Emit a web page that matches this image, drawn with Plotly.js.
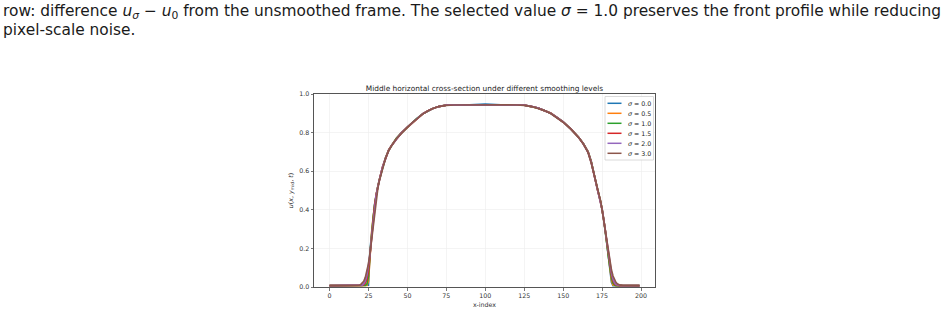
<!DOCTYPE html>
<html>
<head>
<meta charset="utf-8">
<script src="https://cdn.plot.ly/plotly-3.0.1.min.js"></script>
<style>html,body{margin:0;padding:0;background:#fff;}#chart{width:945px;height:314px;}</style>
</head>
<body>
<div id="chart"></div>
<script>
// ---- data ----
const xIndex = [0, 10, 18, 19, 20, 21, 22, 23, 24, 25, 26, 27, 28, 29, 30, 31, 32, 34, 36, 38, 40, 43, 46, 50, 53, 56, 60, 63, 66, 70, 75, 80, 90, 100, 110, 120, 125, 130, 134, 138, 142, 146, 150, 155, 160, 163, 166, 168, 170, 172, 174, 175, 176, 177, 178, 179, 180, 181, 182, 183, 184, 185, 186, 188, 199];

const sigmaLabels = ['0.0', '0.5', '1.0', '1.5', '2.0', '3.0'];

const uSigma00 = [0.007, 0.007, 0.007, 0.007, 0.007, 0.007, 0.007, 0.007, 0.007, 0.010, 0.190, 0.280, 0.360, 0.430, 0.480, 0.520, 0.555, 0.620, 0.670, 0.710, 0.735, 0.770, 0.797, 0.828, 0.850, 0.872, 0.898, 0.912, 0.924, 0.935, 0.942, 0.944, 0.944, 0.948, 0.944, 0.944, 0.942, 0.935, 0.927, 0.914, 0.900, 0.878, 0.855, 0.818, 0.775, 0.742, 0.700, 0.650, 0.575, 0.505, 0.445, 0.405, 0.350, 0.296, 0.225, 0.160, 0.090, 0.025, 0.007, 0.007, 0.007, 0.007, 0.007, 0.007, 0.007];
const uSigma05 = [0.007, 0.007, 0.007, 0.007, 0.007, 0.007, 0.007, 0.007, 0.008, 0.030, 0.180, 0.280, 0.360, 0.430, 0.480, 0.520, 0.555, 0.620, 0.670, 0.710, 0.735, 0.770, 0.798, 0.828, 0.850, 0.872, 0.898, 0.912, 0.924, 0.935, 0.942, 0.944, 0.944, 0.947, 0.944, 0.944, 0.942, 0.935, 0.927, 0.914, 0.901, 0.878, 0.855, 0.818, 0.775, 0.742, 0.700, 0.650, 0.575, 0.505, 0.445, 0.405, 0.350, 0.296, 0.225, 0.160, 0.092, 0.035, 0.010, 0.007, 0.007, 0.007, 0.007, 0.007, 0.007];
const uSigma10 = [0.007, 0.007, 0.007, 0.007, 0.007, 0.007, 0.007, 0.008, 0.015, 0.055, 0.170, 0.275, 0.355, 0.428, 0.479, 0.520, 0.555, 0.620, 0.670, 0.709, 0.735, 0.770, 0.797, 0.828, 0.850, 0.872, 0.898, 0.912, 0.924, 0.935, 0.942, 0.944, 0.944, 0.946, 0.944, 0.944, 0.942, 0.935, 0.927, 0.914, 0.900, 0.878, 0.855, 0.818, 0.775, 0.742, 0.700, 0.650, 0.576, 0.506, 0.445, 0.404, 0.350, 0.296, 0.226, 0.160, 0.100, 0.048, 0.020, 0.010, 0.007, 0.007, 0.007, 0.007, 0.007];
const uSigma15 = [0.007, 0.007, 0.007, 0.007, 0.007, 0.008, 0.011, 0.020, 0.040, 0.085, 0.165, 0.265, 0.350, 0.425, 0.478, 0.519, 0.555, 0.619, 0.670, 0.709, 0.735, 0.769, 0.797, 0.828, 0.850, 0.872, 0.898, 0.912, 0.924, 0.935, 0.942, 0.944, 0.944, 0.945, 0.944, 0.944, 0.942, 0.935, 0.927, 0.914, 0.900, 0.878, 0.855, 0.818, 0.775, 0.741, 0.699, 0.648, 0.577, 0.507, 0.445, 0.403, 0.350, 0.295, 0.228, 0.165, 0.110, 0.063, 0.032, 0.016, 0.010, 0.008, 0.007, 0.007, 0.007];
const uSigma20 = [0.007, 0.007, 0.007, 0.007, 0.008, 0.010, 0.017, 0.032, 0.060, 0.105, 0.170, 0.255, 0.340, 0.420, 0.475, 0.518, 0.554, 0.619, 0.669, 0.708, 0.735, 0.769, 0.797, 0.828, 0.850, 0.872, 0.898, 0.912, 0.924, 0.935, 0.942, 0.944, 0.944, 0.944, 0.944, 0.944, 0.942, 0.935, 0.927, 0.914, 0.900, 0.878, 0.855, 0.818, 0.775, 0.741, 0.698, 0.646, 0.578, 0.508, 0.445, 0.402, 0.349, 0.295, 0.230, 0.170, 0.118, 0.074, 0.042, 0.022, 0.013, 0.009, 0.008, 0.007, 0.007];
const uSigma30 = [0.007, 0.007, 0.008, 0.009, 0.012, 0.019, 0.030, 0.050, 0.080, 0.120, 0.175, 0.245, 0.325, 0.400, 0.460, 0.510, 0.550, 0.617, 0.668, 0.706, 0.734, 0.768, 0.796, 0.828, 0.850, 0.871, 0.897, 0.912, 0.924, 0.935, 0.941, 0.943, 0.944, 0.943, 0.944, 0.943, 0.941, 0.935, 0.926, 0.914, 0.899, 0.878, 0.854, 0.818, 0.774, 0.740, 0.696, 0.642, 0.578, 0.510, 0.446, 0.400, 0.348, 0.292, 0.235, 0.178, 0.128, 0.088, 0.057, 0.036, 0.022, 0.015, 0.011, 0.008, 0.007];

const xTicks = [0, 25, 50, 75, 100, 125, 150, 175, 200];
const yTicks = [0.0, 0.2, 0.4, 0.6, 0.8, 1.0];

// ---- styling ----
const series = [uSigma00, uSigma05, uSigma10, uSigma15, uSigma20, uSigma30];
const colors = ['#1f77b4', '#ff7f0e', '#2ca02c', '#d62728', '#9467bd', '#8c564b'];
const FONT = 'DejaVu Sans, sans-serif';

const traces = series.map((ys, i) => ({
  type: 'scatter', mode: 'lines',
  x: xIndex, y: ys,
  name: 'σ = ' + sigmaLabels[i],
  line: {color: colors[i], width: 1.7},
  showlegend: false,
  hoverinfo: 'skip'
}));

// plot area in pixels
const L = 314, R = 655, T = 94, B = 287;
const W = 945, H = 314;
const px = v => (v - L) / (R - L);
const py = v => 1 - (v - T) / (B - T);

const shapes = [];
const annotations = [];

// manual legend (matplotlib style, compact)
shapes.push({type: 'rect', xref: 'paper', yref: 'paper',
  x0: px(605), x1: px(653.5), y0: py(160), y1: py(96.5),
  line: {color: '#d0d0d0', width: 0.8}, fillcolor: 'rgba(255,255,255,0.85)', layer: 'above'});
sigmaLabels.forEach((s, i) => {
  const yy = py(103.3 + 10 * i);
  shapes.push({type: 'line', xref: 'paper', yref: 'paper',
    x0: px(607.5), x1: px(621.5), y0: yy, y1: yy,
    line: {color: colors[i], width: 1.5}, layer: 'above'});
  annotations.push({xref: 'paper', yref: 'paper', x: px(625.5), y: yy,
    xanchor: 'left', yanchor: 'middle', showarrow: false,
    text: '<i>σ</i> = ' + s, font: {family: FONT, size: 6.3, color: '#222'}});
});

// caption text above the figure
const CAP_FONT = {family: 'DejaVu Sans, sans-serif', size: 15.4, color: '#1a1a1a'};
annotations.push({xref: 'paper', yref: 'paper', x: px(1), y: py(0), xanchor: 'left', yanchor: 'top',
  showarrow: false, align: 'left',
  text: 'row: difference <i>u</i><sub><i>σ</i></sub> − <i>u</i><sub>0</sub> from the unsmoothed frame. The selected value <i>σ</i> = 1.0 preserves the front profile while reducing',
  font: CAP_FONT});
annotations.push({xref: 'paper', yref: 'paper', x: px(1), y: py(19.5), xanchor: 'left', yanchor: 'top',
  showarrow: false, align: 'left',
  text: 'pixel-scale noise.',
  font: CAP_FONT});

const axisCommon = {
  showline: true, mirror: true, linecolor: '#555', linewidth: 1,
  ticks: 'outside', ticklen: 2.5, tickwidth: 0.8, tickcolor: '#555',
  showgrid: true, gridcolor: '#ececec', gridwidth: 0.6,
  zeroline: false,
  tickfont: {family: FONT, size: 6.3, color: '#333'}
};

const layout = {
  width: W, height: H,
  margin: {l: L, r: W - R, t: T, b: H - B, pad: 0},
  paper_bgcolor: '#fff', plot_bgcolor: '#fff',
  showlegend: false,
  title: {text: 'Middle horizontal cross-section under different smoothing levels',
    font: {family: FONT, size: 7.4, color: '#222'},
    x: 0.5, xref: 'paper', xanchor: 'center', y: (H - 88) / H, yref: 'container', yanchor: 'middle'},
  xaxis: Object.assign({}, axisCommon, {
    range: [-9.95, 208.95], tickmode: 'array', tickvals: xTicks,
    ticktext: xTicks.map(String),
    title: {text: 'x-index', font: {family: FONT, size: 6.3, color: '#333'}, standoff: 4}
  }),
  yaxis: Object.assign({}, axisCommon, {
    range: [0, 1], tickmode: 'array', tickvals: yTicks,
    ticktext: yTicks.map(v => v.toFixed(1)),
    title: {text: '<i>u</i>(<i>x</i>, <i>y</i><sub>mid</sub>, <i>t</i>)', font: {family: FONT, size: 6.3, color: '#333'}, standoff: 5}
  }),
  shapes: shapes,
  annotations: annotations
};

Plotly.newPlot('chart', traces, layout, {displayModeBar: false, staticPlot: true});
</script>
</body>
</html>
